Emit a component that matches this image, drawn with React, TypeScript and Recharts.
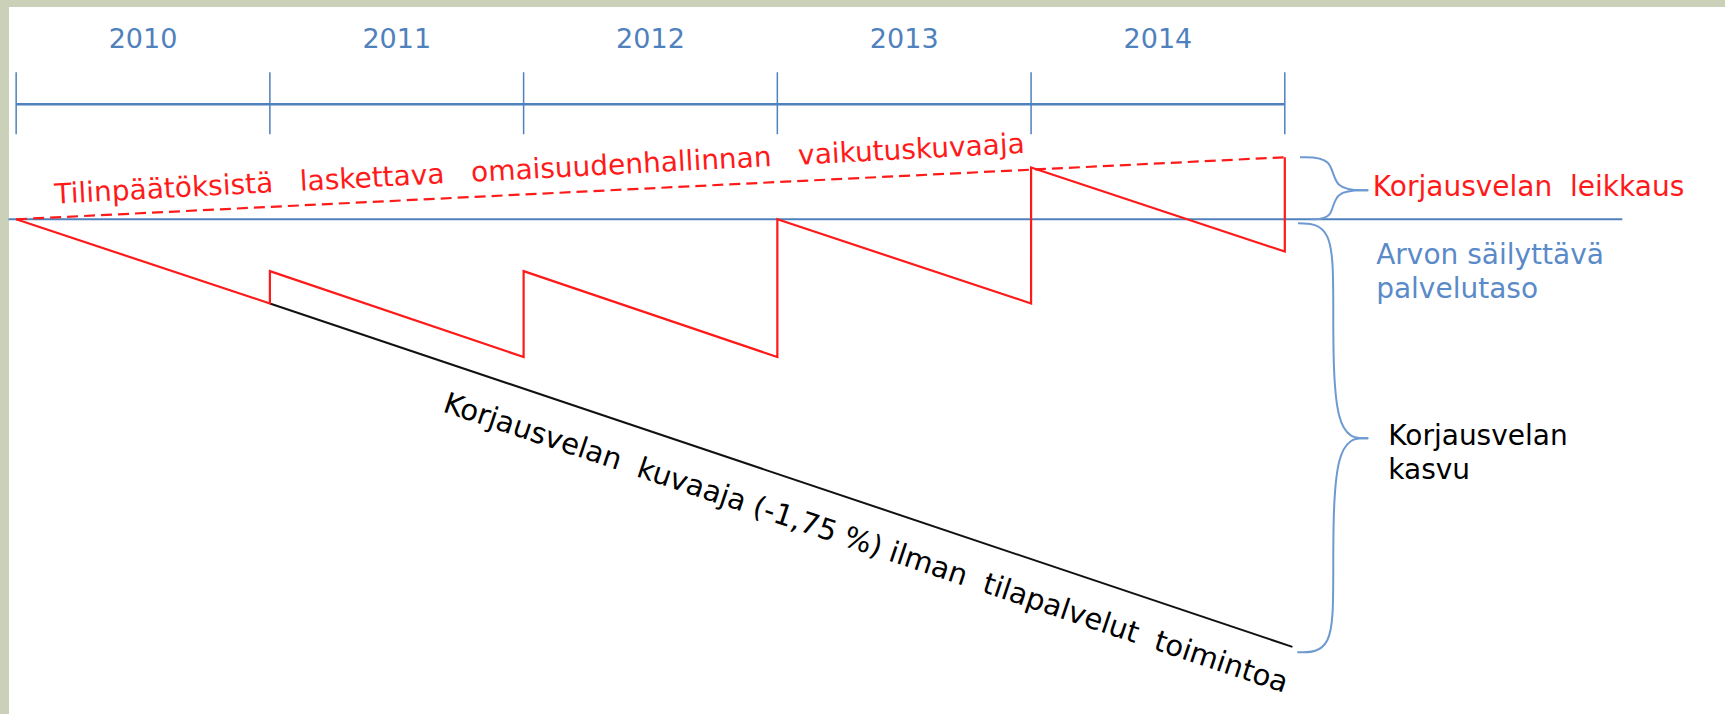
import React from 'react';
import { ComposedChart, Line, XAxis, YAxis, ReferenceDot } from 'recharts';

// ---- data (x = years since start of 2010, y = service level relative to value-preserving level) ----
const years = ['2010', '2011', '2012', '2013', '2014'];
const yearBoundaries = [0, 1, 2, 3, 4, 5];
const yearCenters = [0.5, 1.5, 2.5, 3.5, 4.5];

// red sawtooth: repair-debt path with asset-management actions
const sawtoothX = [0, 1, 1, 2, 2, 3, 3, 4, 4, 5, 5];
const sawtoothY = [0, -0.99, -0.61, -1.62, -0.61, -1.62, 0, -0.99, 0.61, -0.38, 0.73];

// dashed red trend (from financial statements)
const trendX = [0, 5];
const trendY = [0, 0.73];

// black line: repair debt (-1,75 %) without facility services
const noRepairX = [1, 5.03];
const noRepairY = [-0.99, -5.03];

// blue value-preserving service level
const serviceX = [-0.03, 6.33];
const serviceY = [0, 0];

// timeline levels
const timelineLevel = 1.353;
const tickLow = 1.0;
const tickHigh = 1.73;
const yearLabelLevel = 2.124;

// braces (control points)
const upperBraceTopX = [5.06, 5.191, 5.191, 5.329];
const upperBraceTopY = [0.729, 0.729, 0.341, 0.341];
const upperBraceBotX = [5.329, 5.191, 5.191, 5.1];
const upperBraceBotY = [0.341, 0.341, 0.0, 0.0];
const lowerBraceTopX = [5.052, 5.191, 5.191, 5.191, 5.329];
const lowerBraceTopY = [-0.047, -0.059, -0.953, -2.576, -2.576];
const lowerBraceBotX = [5.329, 5.191, 5.191, 5.191, 5.049];
const lowerBraceBotY = [-2.576, -2.576, -4.247, -5.094, -5.094];

const zip = (xs: number[], ys: (number | null)[]) => xs.map((x, i) => ({ x, y: ys[i] }));

const sawtooth = zip(sawtoothX, sawtoothY);
const trend = zip(trendX, trendY);
const noRepair = zip(noRepairX, noRepairY);
const service = zip(serviceX, serviceY);
const timeline = [
  { x: yearBoundaries[0], y: timelineLevel },
  { x: yearBoundaries[yearBoundaries.length - 1], y: timelineLevel },
];
const ticks = yearBoundaries.flatMap((b) => [
  { x: b, y: tickLow },
  { x: b, y: tickHigh },
  { x: b, y: null },
]);

const RED = '#FF1A1A';
const BLUE = '#4F81BD';
const BRACE = '#6E9AD2';
const FONT = 'DejaVu Sans, Verdana, sans-serif';

type Ann = { x: number; y: number; text: string; color: string; pos: 'right' | 'center'; angle?: number; size?: number };
const annotations: Ann[] = [
  { x: 2.063, y: 0.6, text: 'Tilinpäätöksistä\u00A0\u00A0 laskettava\u00A0\u00A0 omaisuudenhallinnan\u00A0\u00A0 vaikutuskuvaaja', color: RED, pos: 'center', angle: -3 },
  { x: 3.35, y: -3.8, text: 'Korjausvelan\u00A0 kuvaaja (-1,75 %) ilman\u00A0 tilapalvelut\u00A0 toimintoa', color: '#000', pos: 'center', angle: 18.5, size: 29 },
  { x: 5.347, y: 0.39, text: 'Korjausvelan\u00A0 leikkaus', color: RED, pos: 'right' },
  { x: 5.36, y: -0.414, text: 'Arvon säilyttävä', color: '#5B8AC8', pos: 'right' },
  { x: 5.36, y: -0.806, text: 'palvelutaso', color: '#5B8AC8', pos: 'right' },
  { x: 5.408, y: -2.535, text: 'Korjausvelan', color: '#000', pos: 'right' },
  { x: 5.408, y: -2.939, text: 'kasvu', color: '#000', pos: 'right' },
];

const braceLine = (d: { x: number; y: number | null }[], k: string) => (
  <Line key={k} data={d} dataKey="y" type="basis" stroke={BRACE} strokeWidth={2} dot={false} activeDot={false} isAnimationActive={false} />
);

export default function App() {
  return (
    <div style={{ position: 'absolute', left: 0, top: 0, width: 1725, height: 714, background: '#CBD0B8', overflow: 'hidden' }}>
      <div style={{ position: 'absolute', left: 9, top: 7, width: 1716, height: 707, background: '#FFFFFF' }} />
      <div style={{ position: 'absolute', left: 0, top: 0 }}>
        <ComposedChart width={1725} height={714} margin={{ top: 0, right: 19, bottom: 0, left: 6 }}>
          <XAxis dataKey="x" type="number" domain={[-0.04, 6.66]} allowDataOverflow hide />
          <YAxis type="number" domain={[-5.82, 2.58]} allowDataOverflow hide />
          <Line data={service} dataKey="y" type="linear" stroke={BLUE} strokeWidth={2} dot={false} activeDot={false} isAnimationActive={false} />
          <Line data={timeline} dataKey="y" type="linear" stroke={BLUE} strokeWidth={2.5} dot={false} activeDot={false} isAnimationActive={false} />
          <Line data={ticks} dataKey="y" type="linear" stroke={BLUE} strokeWidth={1.5} dot={false} activeDot={false} connectNulls={false} isAnimationActive={false} />
          <Line data={trend} dataKey="y" type="linear" stroke={RED} strokeWidth={2.2} strokeDasharray="11 6" dot={false} activeDot={false} isAnimationActive={false} />
          <Line data={noRepair} dataKey="y" type="linear" stroke="#111" strokeWidth={2} dot={false} activeDot={false} isAnimationActive={false} />
          <Line data={sawtooth} dataKey="y" type="linear" stroke={RED} strokeWidth={2.2} dot={false} activeDot={false} isAnimationActive={false} />
          {braceLine(zip(upperBraceTopX, upperBraceTopY), 'b1')}
          {braceLine(zip(upperBraceBotX, upperBraceBotY), 'b2')}
          {braceLine(zip(lowerBraceTopX, lowerBraceTopY), 'b3')}
          {braceLine(zip(lowerBraceBotX, lowerBraceBotY), 'b4')}
          {years.map((yr, i) => (
            <ReferenceDot
              key={yr}
              x={yearCenters[i]}
              y={yearLabelLevel}
              r={0}
              fill="none"
              stroke="none"
              label={{ value: yr, position: 'center', fill: BLUE, fontSize: 27, fontFamily: FONT }}
            />
          ))}
          {annotations.map((a, i) => (
            <ReferenceDot
              key={'a' + i}
              x={a.x}
              y={a.y}
              r={0}
              fill="none"
              stroke="none"
              label={{ value: a.text, position: a.pos, offset: 0, angle: a.angle ?? 0, fill: a.color, fontSize: a.size ?? 28, fontFamily: FONT }}
            />
          ))}
        </ComposedChart>
      </div>
    </div>
  );
}
